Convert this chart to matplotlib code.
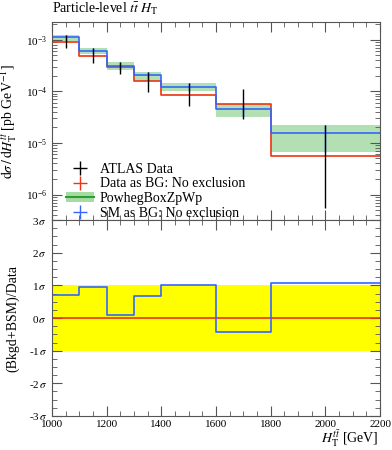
import numpy as np
import matplotlib
matplotlib.use("Agg")
import matplotlib.pyplot as plt
from matplotlib.ticker import MultipleLocator
from matplotlib.lines import Line2D
from matplotlib.patches import Patch

plt.rcParams["font.family"] = "Liberation Serif"
plt.rcParams["mathtext.fontset"] = "stix"

# bin edges in H_T [GeV]
edges = [1000, 1100, 1200, 1300, 1400, 1600, 1800, 2200]

# ATLAS data and its error band
data = [9.6e-4, 5.4e-4, 3.0e-4, 1.7e-4, 9.0e-5, 4.9e-5, 1.15e-5]
data_hi = [1.25e-3, 6.8e-4, 3.7e-4, 2.4e-4, 1.45e-4, 1.1e-4, 2.2e-5]
data_lo = [6.8e-4, 3.6e-4, 2.2e-4, 9.5e-5, 5.2e-5, 2.9e-5, 5.5e-7]

# Data as BG (red)
red = [9.0e-4, 4.8e-4, 3.0e-4, 1.58e-4, 8.3e-5, 5.7e-5, 5.6e-6]

# SM as BG (blue) and PowhegBoxZpWp band
blue = [1.11e-3, 6.1e-4, 3.07e-4, 2.09e-4, 1.22e-4, 4.6e-5, 1.55e-5]
band_hi = [1.26e-3, 6.8e-4, 3.68e-4, 2.4e-4, 1.46e-4, 5.7e-5, 2.2e-5]
band_lo = [9.3e-4, 5.4e-4, 2.6e-4, 1.58e-4, 1.0e-4, 3.2e-5, 6.6e-6]

# ratio panel, in sigma
ratio_blue = [0.71, 0.94, 0.08, 0.66, 1.0, -0.44, 1.07]
ratio_red = [0, 0, 0, 0, 0, 0, 0]

edges = np.array(edges)
centers = 0.5 * (edges[:-1] + edges[1:])

def step(vals):
    return np.append(vals, vals[-1])

red_c = "#ee3311"
blue_c = "#3366ff"
green_c = "#2ca02c"
frame_c = "#555555"

fig = plt.figure(figsize=(3.92, 4.5), dpi=100)
ax = fig.add_axes([0.1327, 0.511, 0.837, 0.44])
rax = fig.add_axes([0.1327, 0.0756, 0.837, 0.4354], sharex=ax)

# main panel
ax.fill_between(edges, step(band_lo), step(band_hi), step="post",
                color="#a6dba6", alpha=0.85, lw=0)
ax.step(edges, step(red), where="post", color=red_c, lw=1.2)
ax.step(edges, step(blue), where="post", color=blue_c, lw=1.2)
ax.vlines(centers, band_lo, band_hi, color=blue_c, lw=1.0)
ax.vlines(centers, data_lo, data_hi, color="black", lw=1.0)

ax.set_yscale("log")
ax.set_ylim(3.2e-7, 2.2e-3)
ax.set_xlim(1000, 2200)
ax.set_ylabel(r"$\mathrm{d}\sigma\,/\,\mathrm{d}H_\mathrm{T}^{t\bar{t}}$ [pb GeV$^{-1}$]",
              fontsize=10)
ax.text(0.0, 1.025, r"Particle-level $t\bar{t}$ $H_\mathrm{T}$", transform=ax.transAxes,
        fontsize=10, ha="left", va="bottom")

# legend
h_data = ax.errorbar([], [], yerr=[], xerr=[], color="black", lw=1.0, fmt="none")
h_red = ax.errorbar([], [], yerr=[], xerr=[], color=red_c, lw=1.0, fmt="none")
h_blue = ax.errorbar([], [], yerr=[], xerr=[], color=blue_c, lw=1.0, fmt="none")
h_green = (Patch(facecolor="#a6dba6", edgecolor="none"),
           Line2D([], [], color=green_c, lw=1.5))
ax.legend([h_data, h_red, h_green, h_blue],
          ["ATLAS Data", "Data as BG: No exclusion", "PowhegBoxZpWp",
           "SM as BG: No exclusion"],
          loc="lower left", bbox_to_anchor=(0.01, -0.055), frameon=False,
          fontsize=10, handlelength=2.0, handletextpad=0.4,
          labelspacing=0.12, borderpad=0.3)

# ratio panel
rax.axhspan(-1, 1, color="#ffff00", lw=0)
rax.step(edges, step(ratio_red), where="post", color=red_c, lw=1.2)
rax.step(edges, step(ratio_blue), where="post", color=blue_c, lw=1.2)
rax.set_ylim(-3, 3)
rax.set_yticks([-3, -2, -1, 0, 1, 2, 3])
rax.set_yticklabels([r"-3$\,\sigma$", r"-2$\,\sigma$", r"-1$\,\sigma$", r"0$\,\sigma$",
                     r"1$\,\sigma$", r"2$\,\sigma$", r"3$\,\sigma$"])
rax.yaxis.set_minor_locator(MultipleLocator(0.25))
rax.set_ylabel("(Bkgd+BSM)/Data", fontsize=10)
rax.set_xlabel(r"$H_\mathrm{T}^{t\bar{t}}$ [GeV]", fontsize=10, ha="right", va="bottom")
rax.xaxis.set_label_coords(0.995, -0.166)
rax.xaxis.set_major_locator(MultipleLocator(200))
rax.xaxis.set_minor_locator(MultipleLocator(50))

plt.setp(ax.get_xticklabels(), visible=False)

for a in (ax, rax):
    a.tick_params(which="both", direction="in", top=True, right=True,
                  labelsize=8, color=frame_c)
    a.tick_params(which="major", length=7)
    a.tick_params(which="minor", length=3.5)
    for s in a.spines.values():
        s.set_color(frame_c)
        s.set_linewidth(0.8)
rax.tick_params(axis="x", pad=3)
ax.yaxis.set_label_coords(-0.1, 0.5)
rax.yaxis.set_label_coords(-0.1, 0.5)

fig.savefig("out.png", dpi=100)
